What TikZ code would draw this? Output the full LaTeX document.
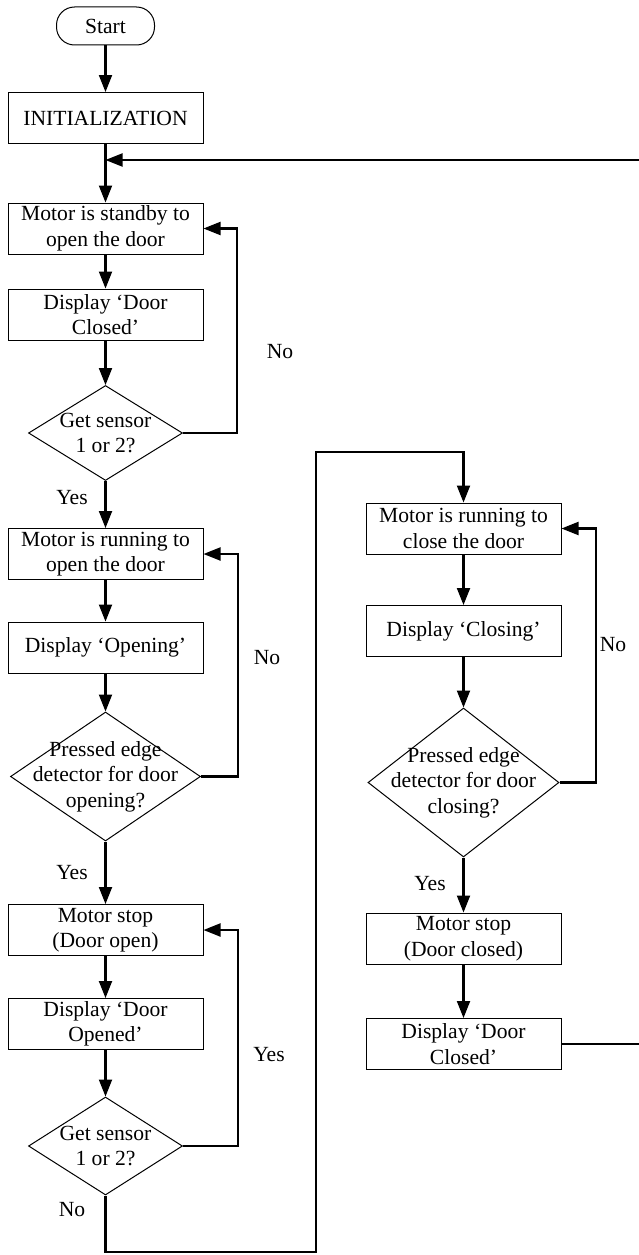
\documentclass[tikz,border=0pt]{standalone}
\usepackage{fontspec}
\setmainfont{Liberation Serif}
\usetikzlibrary{arrows.meta,shapes.geometric}
\begin{document}
\begin{tikzpicture}[x=1pt,y=-1pt,
  font=\fontsize{21.6}{25.5}\selectfont,
  box/.style={draw,line width=1pt,minimum width=195pt,minimum height=51pt,inner sep=0pt,align=center},
  term/.style={draw,line width=1pt,rounded corners=18pt,minimum width=98pt,minimum height=38pt,inner sep=0pt},
  dec/.style={draw,diamond,line width=1pt,inner sep=0pt},
  txt/.style={inner sep=0pt,align=center},
  lbl/.style={inner sep=0pt},
  flow/.style={line width=2.1pt,-{Triangle[length=17pt,width=13pt]}},
  wire/.style={line width=2.1pt},
]
\useasboundingbox (0,0) rectangle (639,1255);
% left column
\node[term] (start) at (105.5,26) {Start};
\node[box] (init) at (105.5,118) {INITIALIZATION};
\coordinate (j1) at (105.5,160);
\node[box] (b1) at (105.5,228.5) {Motor is standby to\\open the door};
\node[box] (b2) at (105.5,314.5) {Display `Door\\Closed'};
\node[dec,minimum width=154pt,minimum height=95pt] (d1) at (105.5,433) {};
\node[txt] (t1) at (d1.center) {Get sensor\\1 or 2?};
\node[box] (b3) at (105.5,554) {Motor is running to\\open the door};
\node[box] (b4) at (105.5,647.5) {Display `Opening'};
\node[dec,minimum width=190pt,minimum height=129pt] (d2) at (105.5,776.5) {};
\node[txt] (t2) at (d2.center) {Pressed edge\\detector for door\\opening?};
\node[box] (b5) at (105.5,930) {Motor stop\\(Door open)};
\node[box] (b6) at (105.5,1024) {Display `Door\\Opened'};
\node[dec,minimum width=154pt,minimum height=98pt] (d3) at (105.5,1146) {};
\node[txt] (t3) at (d3.center) {Get sensor\\1 or 2?};
% right column
\node[box] (b7) at (463.5,528.5) {Motor is running to\\close the door};
\node[box] (b8) at (463.5,631) {Display `Closing'};
\node[dec,minimum width=191pt,minimum height=149pt] (d4) at (463.5,782.5) {};
\node[txt] (t4) at (d4.center) {Pressed edge\\detector for door\\closing?};
\node[box] (b9) at (463.5,938.5) {Motor stop\\(Door closed)};
\node[box] (b10) at (463.5,1044) {Display `Door\\Closed'};
% labels
\node[lbl] (l1) at (280,352) {No};
\node[lbl] (l2) at (72,498) {Yes};
\node[lbl] (l3) at (267,658) {No};
\node[lbl] (l4) at (72,873) {Yes};
\node[lbl] (l5) at (269,1055) {Yes};
\node[lbl] (l6) at (72,1210) {No};
\node[lbl] (l7) at (613,645) {No};
\node[lbl] (l8) at (430,884) {Yes};
% coordinates
\coordinate (c1) at (316,1252);
\coordinate (c2) at (316,452);
\coordinate (e1) at (639,1044);
\coordinate (e2) at (639,160);
% connectors
\draw[flow] (start) -- (init);
\draw[flow] (init) -- (b1);
\draw[flow] (b1) -- (b2);
\draw[flow] (b2) -- (d1);
\draw[flow] (d1) -- (b3);
\draw[flow] (b3) -- (b4);
\draw[flow] (b4) -- (d2);
\draw[flow] (d2) -- (b5);
\draw[flow] (b5) -- (b6);
\draw[flow] (b6) -- (d3);
\draw[flow] (b7) -- (b8);
\draw[flow] (b8) -- (d4);
\draw[flow] (d4) -- (b9);
\draw[flow] (b9) -- (b10);
\draw[flow] (d1.east) -- ++(54,0) |- (b1.east);
\draw[flow] (d2.east) -- ++(37,0) |- (b3.east);
\draw[flow] (d3.east) -- ++(55,0) |- (b5.east);
\draw[flow] (d4.east) -- ++(36.5,0) |- (b7.east);
\draw[flow] (d3.south) |- (c1) -- (c2) -| (b7.north);
\draw[wire] (b10.east) -- (e1);
\draw[flow] (e2) -- (j1);
\end{tikzpicture}
\end{document}
